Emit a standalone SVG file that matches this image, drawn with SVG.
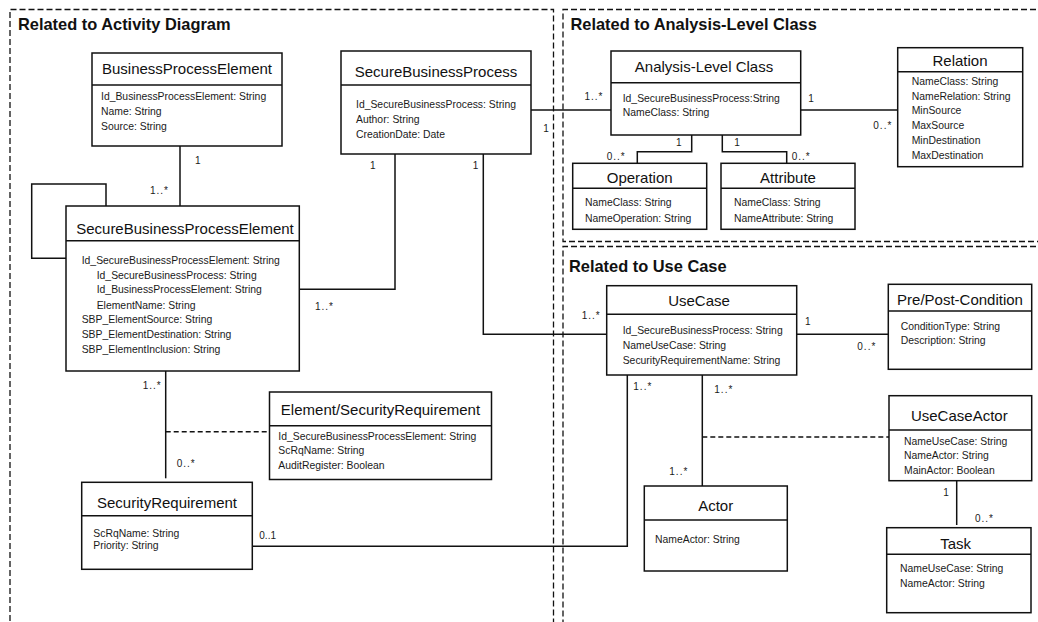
<svg xmlns="http://www.w3.org/2000/svg" width="1038" height="622" viewBox="0 0 1038 622">
<style>
.frame{fill:none;stroke:#111;stroke-width:1.3;stroke-dasharray:6 3}
.box{fill:#fff;stroke:#111;stroke-width:1.5}
.div{stroke:#111;stroke-width:1.5}
.conn{fill:none;stroke:#111;stroke-width:1.5}
.dash{fill:none;stroke:#111;stroke-width:1.4;stroke-dasharray:5 3}
.sec{font-family:"Liberation Sans",Arial,sans-serif;font-weight:bold;font-size:16.4px;fill:#111}
.title{font-family:"Liberation Sans",Arial,sans-serif;font-size:15px;fill:#111;text-anchor:middle}
.attr{font-family:"Liberation Sans",Arial,sans-serif;font-size:10.4px;fill:#1a1a1a}
.mult{font-family:"Liberation Sans",Arial,sans-serif;font-size:10px;fill:#1a1a1a}
.star{letter-spacing:1px}
</style>
<rect width="1038" height="622" fill="#fff"/>
<g id="frames">
<path class="frame" d="M10 630 V9.5 H553.5 V630"/>
<path class="frame" d="M1045 9.5 H563 V241.5 H1045"/>
<path class="frame" d="M1045 246.5 H563 V630"/>
<text class="sec" x="18" y="30">Related to Activity Diagram</text>
<text class="sec" x="570.5" y="30">Related to Analysis-Level Class</text>
<text class="sec" x="569" y="272">Related to Use Case</text>
</g>
<g id="connectors">
<path class="conn" d="M180 145.7 V206"/>
<path class="conn" d="M106 206 V184 H31.7 V258.3 H66"/>
<path class="conn" d="M299.3 289.3 H395 V154"/>
<path class="conn" d="M483.3 154 V334.3 H606.7"/>
<path class="conn" d="M530.7 110 H611"/>
<path class="conn" d="M800.7 110 H897.7"/>
<path class="conn" d="M691.7 135 V151.7 H637.3 V163.3"/>
<path class="conn" d="M722.3 135 V151.7 H786.7 V163.3"/>
<path class="conn" d="M165.7 371 V478.3"/>
<path class="dash" d="M165.7 431.7 H269.5"/>
<path class="conn" d="M627.3 375 V546.2 H252.3"/>
<path class="conn" d="M796.7 334.3 H888.3"/>
<path class="conn" d="M702.3 375 V486"/>
<path class="dash" d="M702.3 437 H889"/>
<path class="conn" d="M956.7 480.7 V525"/>
<text class="mult" x="195" y="164">1</text>
<text class="mult star" x="150" y="194">1..*</text>
<text class="mult" x="370" y="169">1</text>
<text class="mult" x="472.7" y="169">1</text>
<text class="mult" x="543.3" y="131.5">1</text>
<text class="mult star" x="584.5" y="100">1..*</text>
<text class="mult" x="808.3" y="102">1</text>
<text class="mult star" x="873.3" y="128.5">0..*</text>
<text class="mult" x="676" y="146">1</text>
<text class="mult star" x="606.7" y="159.5">0..*</text>
<text class="mult" x="734.3" y="146">1</text>
<text class="mult star" x="791.7" y="159.5">0..*</text>
<text class="mult star" x="315" y="310">1..*</text>
<text class="mult star" x="142.7" y="388.5">1..*</text>
<text class="mult star" x="176.7" y="467">0..*</text>
<text class="mult" x="259.3" y="538.5">0..1</text>
<text class="mult star" x="581.7" y="318.5">1..*</text>
<text class="mult" x="805" y="325">1</text>
<text class="mult star" x="857.3" y="349.5">0..*</text>
<text class="mult star" x="633.3" y="390">1..*</text>
<text class="mult star" x="714.3" y="392.8">1..*</text>
<text class="mult star" x="669.3" y="475">1..*</text>
<text class="mult" x="943.3" y="496">1</text>
<text class="mult star" x="975" y="522">0..*</text>
</g>
<g id="BusinessProcessElement">
<rect class="box" x="92" y="53" width="190" height="93"/>
<line class="div" x1="92" y1="85" x2="282" y2="85"/>
<text class="title" x="187" y="74">BusinessProcessElement</text>
<text class="attr" x="101" y="100.4">Id_BusinessProcessElement: String</text>
<text class="attr" x="101" y="115.4">Name: String</text>
<text class="attr" x="101" y="130.4">Source: String</text>
</g>
<g id="SecureBusinessProcess">
<rect class="box" x="341" y="51" width="190" height="103"/>
<line class="div" x1="341" y1="85" x2="531" y2="85"/>
<text class="title" x="436" y="77">SecureBusinessProcess</text>
<text class="attr" x="356" y="108">Id_SecureBusinessProcess: String</text>
<text class="attr" x="356" y="123">Author: String</text>
<text class="attr" x="356" y="138">CreationDate: Date</text>
</g>
<g id="SecureBusinessProcessElement">
<rect class="box" x="66" y="206" width="233.3" height="165"/>
<line class="div" x1="66" y1="240.7" x2="299.3" y2="240.7"/>
<text class="title" x="185" y="233.5">SecureBusinessProcessElement</text>
<text class="attr" x="81.7" y="263.7">Id_SecureBusinessProcessElement: String</text>
<text class="attr" x="96.7" y="278.7">Id_SecureBusinessProcess: String</text>
<text class="attr" x="96.7" y="293.3">Id_BusinessProcessElement: String</text>
<text class="attr" x="96.7" y="308.7">ElementName: String</text>
<text class="attr" x="81.7" y="322.7">SBP_ElementSource: String</text>
<text class="attr" x="81.7" y="338">SBP_ElementDestination: String</text>
<text class="attr" x="81.7" y="353">SBP_ElementInclusion: String</text>
</g>
<g id="ElementSecurityRequirement">
<rect class="box" x="269.5" y="392" width="222" height="87.5"/>
<line class="div" x1="269.5" y1="425.7" x2="491.5" y2="425.7"/>
<text class="title" x="380.5" y="415.3">Element/SecurityRequirement</text>
<text class="attr" x="278.3" y="439.7">Id_SecureBusinessProcessElement: String</text>
<text class="attr" x="278.3" y="454.3">ScRqName: String</text>
<text class="attr" x="278.3" y="469.3">AuditRegister: Boolean</text>
</g>
<g id="SecurityRequirement">
<rect class="box" x="81.7" y="482.3" width="170.6" height="87"/>
<line class="div" x1="81.7" y1="515.7" x2="252.3" y2="515.7"/>
<text class="title" x="167" y="507.6">SecurityRequirement</text>
<text class="attr" x="93.3" y="537">ScRqName: String</text>
<text class="attr" x="93.3" y="548.7">Priority: String</text>
</g>
<g id="AnalysisLevelClass">
<rect class="box" x="611" y="51" width="189.7" height="84"/>
<line class="div" x1="611" y1="82.7" x2="800.7" y2="82.7"/>
<text class="title" x="704" y="72">Analysis-Level Class</text>
<text class="attr" x="622.7" y="102">Id_SecureBusinessProcess:String</text>
<text class="attr" x="622.7" y="115.5">NameClass: String</text>
</g>
<g id="Relation">
<rect class="box" x="897.7" y="47.7" width="125" height="119"/>
<line class="div" x1="897.7" y1="71.7" x2="1022.7" y2="71.7"/>
<text class="title" x="960" y="66.3">Relation</text>
<text class="attr" x="911.7" y="85.2">NameClass: String</text>
<text class="attr" x="911.7" y="100.2">NameRelation: String</text>
<text class="attr" x="911.7" y="114.2">MinSource</text>
<text class="attr" x="911.7" y="129.2">MaxSource</text>
<text class="attr" x="911.7" y="143.8">MinDestination</text>
<text class="attr" x="911.7" y="158.5">MaxDestination</text>
</g>
<g id="Operation">
<rect class="box" x="572.7" y="163.3" width="134" height="66"/>
<line class="div" x1="572.7" y1="188.3" x2="706.7" y2="188.3"/>
<text class="title" x="639.7" y="182.6">Operation</text>
<text class="attr" x="585" y="206">NameClass: String</text>
<text class="attr" x="585" y="222">NameOperation: String</text>
</g>
<g id="Attribute">
<rect class="box" x="721" y="163.3" width="134" height="66"/>
<line class="div" x1="721" y1="188.3" x2="855" y2="188.3"/>
<text class="title" x="788" y="182.6">Attribute</text>
<text class="attr" x="734" y="206">NameClass: String</text>
<text class="attr" x="734" y="222">NameAttribute: String</text>
</g>
<g id="UseCase">
<rect class="box" x="606.7" y="285.7" width="190" height="89.3"/>
<line class="div" x1="606.7" y1="314.3" x2="796.7" y2="314.3"/>
<text class="title" x="699" y="306.3">UseCase</text>
<text class="attr" x="622.7" y="333.7">Id_SecureBusinessProcess: String</text>
<text class="attr" x="622.7" y="349">NameUseCase: String</text>
<text class="attr" x="622.7" y="363.7">SecurityRequirementName: String</text>
</g>
<g id="PrePostCondition">
<rect class="box" x="888.3" y="284.3" width="143.4" height="85"/>
<line class="div" x1="888.3" y1="311" x2="1031.7" y2="311"/>
<text class="title" x="960" y="305.3">Pre/Post-Condition</text>
<text class="attr" x="900.7" y="329.5">ConditionType: String</text>
<text class="attr" x="900.7" y="344">Description: String</text>
</g>
<g id="UseCaseActor">
<rect class="box" x="889" y="395.7" width="142.7" height="85"/>
<line class="div" x1="889" y1="430" x2="1031.7" y2="430"/>
<text class="title" x="959.3" y="421.3">UseCaseActor</text>
<text class="attr" x="904" y="444.5">NameUseCase: String</text>
<text class="attr" x="904" y="459">NameActor: String</text>
<text class="attr" x="904" y="473.5">MainActor: Boolean</text>
</g>
<g id="Task">
<rect class="box" x="886.7" y="527.7" width="144.3" height="85"/>
<line class="div" x1="886.7" y1="554.3" x2="1031" y2="554.3"/>
<text class="title" x="955.7" y="549.3">Task</text>
<text class="attr" x="900" y="572">NameUseCase: String</text>
<text class="attr" x="900" y="587">NameActor: String</text>
</g>
<g id="Actor">
<rect class="box" x="644.3" y="486" width="143" height="85"/>
<line class="div" x1="644.3" y1="520" x2="787.3" y2="520"/>
<text class="title" x="715.7" y="511.3">Actor</text>
<text class="attr" x="655" y="543">NameActor: String</text>
</g>
</svg>
